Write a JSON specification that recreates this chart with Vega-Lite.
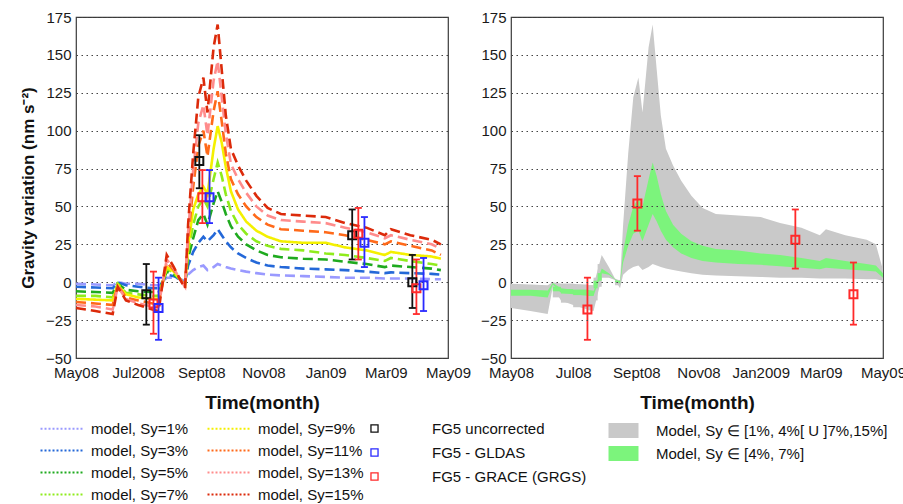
{
  "$schema": "https://vega.github.io/schema/vega-lite/v6.json",
  "background": "white",
  "padding": {"left": 18, "top": 9, "right": 2, "bottom": 5},
  "bounds": "flush",
  "spacing": 63,
  "datasets": {
    "model": [
      {"t": 0, "s1": -1, "s3": -3, "s5": -6, "s7": -9, "s9": -11, "s11": -13, "s13": -15, "s15": -17},
      {"t": 19, "s1": -1.5, "s3": -3.5, "s5": -6.5, "s7": -9, "s9": -11.5, "s11": -14, "s13": -16, "s15": -19},
      {"t": 36, "s1": -2, "s3": -4, "s5": -7, "s7": -10, "s9": -12, "s11": -15, "s13": -18, "s15": -21},
      {"t": 41, "s1": 0, "s3": 0, "s5": -1, "s7": -1, "s9": -2, "s11": -2, "s13": -3, "s15": -3},
      {"t": 49, "s1": -1, "s3": -2, "s5": -5, "s7": -7, "s9": -8, "s11": -10, "s13": -11, "s15": -12},
      {"t": 61, "s1": -1, "s3": -3, "s5": -6, "s7": -8, "s9": -10, "s11": -12, "s13": -14, "s15": -15},
      {"t": 75, "s1": -2, "s3": -4, "s5": -6.5, "s7": -9, "s9": -11, "s11": -14, "s13": -16, "s15": -18},
      {"t": 81, "s1": -2, "s3": -4, "s5": -7, "s7": -9, "s9": -11, "s11": -14, "s13": -16, "s15": -19},
      {"t": 89, "s1": 3, "s3": 5, "s5": 7, "s7": 9, "s9": 10, "s11": 13, "s13": 15, "s15": 18},
      {"t": 96, "s1": 3, "s3": 4, "s5": 5, "s7": 6, "s9": 7, "s11": 8, "s13": 9, "s15": 10},
      {"t": 102, "s1": 2, "s3": 2, "s5": 2, "s7": 2, "s9": 2, "s11": 2, "s13": 2, "s15": 2},
      {"t": 107, "s1": 1, "s3": 0, "s5": -1, "s7": -1, "s9": -2, "s11": -2, "s13": -3, "s15": -4},
      {"t": 110, "s1": 5, "s3": 11, "s5": 16, "s7": 20, "s9": 24, "s11": 28, "s13": 33, "s15": 38},
      {"t": 115, "s1": 8, "s3": 20, "s5": 29, "s7": 38, "s9": 48, "s11": 63, "s13": 74, "s15": 85},
      {"t": 120, "s1": 10, "s3": 26, "s5": 41, "s7": 50, "s9": 58, "s11": 90, "s13": 105, "s15": 122},
      {"t": 125, "s1": 11, "s3": 30, "s5": 45, "s7": 55, "s9": 63, "s11": 100, "s13": 117, "s15": 135},
      {"t": 129, "s1": 8, "s3": 27, "s5": 38, "s7": 50, "s9": 58, "s11": 83, "s13": 97, "s15": 112},
      {"t": 135, "s1": 10, "s3": 31, "s5": 52, "s7": 68, "s9": 88, "s11": 113, "s13": 133, "s15": 155},
      {"t": 139, "s1": 12, "s3": 35, "s5": 60, "s7": 79, "s9": 103, "s11": 126, "s13": 146, "s15": 170},
      {"t": 143, "s1": 11, "s3": 31, "s5": 53, "s7": 70, "s9": 92, "s11": 106, "s13": 122, "s15": 140},
      {"t": 147, "s1": 10, "s3": 27, "s5": 45, "s7": 58, "s9": 76, "s11": 85, "s13": 98, "s15": 110},
      {"t": 152, "s1": 9, "s3": 23, "s5": 37, "s7": 47, "s9": 60, "s11": 68, "s13": 78, "s15": 88},
      {"t": 159, "s1": 8, "s3": 19, "s5": 30, "s7": 38, "s9": 48, "s11": 58, "s13": 68, "s15": 77},
      {"t": 167, "s1": 7, "s3": 16, "s5": 25, "s7": 32, "s9": 40, "s11": 50, "s13": 59, "s15": 67},
      {"t": 177, "s1": 6, "s3": 13, "s5": 21, "s7": 27, "s9": 34, "s11": 43, "s13": 50, "s15": 57},
      {"t": 188, "s1": 5, "s3": 11, "s5": 18, "s7": 24, "s9": 30, "s11": 38, "s13": 44, "s15": 49},
      {"t": 201, "s1": 4.5, "s3": 10, "s5": 16.5, "s7": 22, "s9": 27, "s11": 35, "s13": 41, "s15": 45},
      {"t": 223, "s1": 4, "s3": 9, "s5": 15.5, "s7": 21, "s9": 26, "s11": 34, "s13": 40, "s15": 44},
      {"t": 245, "s1": 3.5, "s3": 8.5, "s5": 15, "s7": 19, "s9": 26, "s11": 33, "s13": 39, "s15": 43},
      {"t": 264, "s1": 3, "s3": 8, "s5": 13.5, "s7": 18, "s9": 23, "s11": 31, "s13": 36, "s15": 39},
      {"t": 285, "s1": 3, "s3": 7, "s5": 12, "s7": 16, "s9": 21, "s11": 28, "s13": 33, "s15": 36},
      {"t": 303, "s1": 2.5, "s3": 6, "s5": 10, "s7": 14, "s9": 18, "s11": 25, "s13": 29, "s15": 31},
      {"t": 309, "s1": 2.5, "s3": 6.5, "s5": 11, "s7": 16, "s9": 20, "s11": 27, "s13": 31, "s15": 35},
      {"t": 328, "s1": 2.5, "s3": 6, "s5": 10, "s7": 14, "s9": 18, "s11": 24, "s13": 28, "s15": 31},
      {"t": 349, "s1": 2, "s3": 5.5, "s5": 9, "s7": 12, "s9": 17, "s11": 21, "s13": 25, "s15": 28},
      {"t": 358, "s1": 2, "s3": 5, "s5": 8, "s7": 11, "s9": 15.5, "s11": 18, "s13": 22, "s15": 25}
    ],
    "band": [
      {"t": 0, "all_lo": -17, "all_hi": -1, "mid_lo": -9, "mid_hi": -5},
      {"t": 19, "all_lo": -19, "all_hi": -1.5, "mid_lo": -9, "mid_hi": -5},
      {"t": 36, "all_lo": -21, "all_hi": -2, "mid_lo": -10, "mid_hi": -5.5},
      {"t": 41, "all_lo": -3, "all_hi": 0, "mid_lo": -1.5, "mid_hi": -0.5},
      {"t": 49, "all_lo": -12, "all_hi": -1, "mid_lo": -7, "mid_hi": -4},
      {"t": 61, "all_lo": -15, "all_hi": -1, "mid_lo": -8, "mid_hi": -5},
      {"t": 75, "all_lo": -18, "all_hi": -2, "mid_lo": -9, "mid_hi": -5},
      {"t": 81, "all_lo": -19, "all_hi": -2, "mid_lo": -9, "mid_hi": -6},
      {"t": 89, "all_lo": 3, "all_hi": 18, "mid_lo": 6, "mid_hi": 9},
      {"t": 96, "all_lo": 3, "all_hi": 10, "mid_lo": 5, "mid_hi": 6},
      {"t": 102, "all_lo": 1.5, "all_hi": 2.5, "mid_lo": 1.8, "mid_hi": 2.2},
      {"t": 107, "all_lo": -4, "all_hi": 1, "mid_lo": -1, "mid_hi": 0},
      {"t": 110, "all_lo": 5, "all_hi": 38, "mid_lo": 13, "mid_hi": 20},
      {"t": 115, "all_lo": 8, "all_hi": 85, "mid_lo": 24, "mid_hi": 38},
      {"t": 120, "all_lo": 10, "all_hi": 122, "mid_lo": 32, "mid_hi": 50},
      {"t": 125, "all_lo": 11, "all_hi": 135, "mid_lo": 34, "mid_hi": 55},
      {"t": 129, "all_lo": 8, "all_hi": 112, "mid_lo": 27, "mid_hi": 50},
      {"t": 135, "all_lo": 10, "all_hi": 155, "mid_lo": 38, "mid_hi": 68},
      {"t": 139, "all_lo": 12, "all_hi": 170, "mid_lo": 45, "mid_hi": 79},
      {"t": 143, "all_lo": 11, "all_hi": 140, "mid_lo": 40, "mid_hi": 70},
      {"t": 147, "all_lo": 10, "all_hi": 110, "mid_lo": 34, "mid_hi": 58},
      {"t": 152, "all_lo": 9, "all_hi": 88, "mid_lo": 28, "mid_hi": 47},
      {"t": 159, "all_lo": 8, "all_hi": 77, "mid_lo": 23, "mid_hi": 38},
      {"t": 167, "all_lo": 7, "all_hi": 67, "mid_lo": 19, "mid_hi": 32},
      {"t": 177, "all_lo": 6, "all_hi": 57, "mid_lo": 16, "mid_hi": 27},
      {"t": 188, "all_lo": 5, "all_hi": 49, "mid_lo": 14, "mid_hi": 24},
      {"t": 201, "all_lo": 4.5, "all_hi": 45, "mid_lo": 13, "mid_hi": 22},
      {"t": 223, "all_lo": 4, "all_hi": 44, "mid_lo": 12, "mid_hi": 21},
      {"t": 245, "all_lo": 3.5, "all_hi": 43, "mid_lo": 11.5, "mid_hi": 19},
      {"t": 264, "all_lo": 3, "all_hi": 39, "mid_lo": 10.5, "mid_hi": 18},
      {"t": 285, "all_lo": 3, "all_hi": 36, "mid_lo": 9.5, "mid_hi": 16},
      {"t": 303, "all_lo": 2.5, "all_hi": 31, "mid_lo": 8.5, "mid_hi": 14},
      {"t": 309, "all_lo": 2.5, "all_hi": 35, "mid_lo": 9.5, "mid_hi": 16},
      {"t": 328, "all_lo": 2.5, "all_hi": 31, "mid_lo": 8.5, "mid_hi": 14},
      {"t": 349, "all_lo": 2, "all_hi": 28, "mid_lo": 7.5, "mid_hi": 12},
      {"t": 358, "all_lo": 2, "all_hi": 25, "mid_lo": 7, "mid_hi": 11},
      {"t": 365, "all_lo": 1, "all_hi": 8, "mid_lo": 3, "mid_hi": 6}
    ],
    "bandsteps": [
      {"t": 41, "t2": 49, "all_lo": -10, "all_hi": -1, "mid_lo": -6, "mid_hi": -3},
      {"t": 49, "t2": 61, "all_lo": -13.5, "all_hi": -1, "mid_lo": -7.5, "mid_hi": -4.5},
      {"t": 61, "t2": 75, "all_lo": -16.5, "all_hi": -1.5, "mid_lo": -8.5, "mid_hi": -5},
      {"t": 75, "t2": 81, "all_lo": -18.5, "all_hi": -2, "mid_lo": -9, "mid_hi": -5.5},
      {"t": 81, "t2": 85, "all_lo": -12, "all_hi": 3, "mid_lo": -4, "mid_hi": 1},
      {"t": 85, "t2": 89, "all_lo": -3, "all_hi": 12, "mid_lo": 1, "mid_hi": 6},
      {"t": 102, "t2": 107, "all_lo": -2, "all_hi": 1.5, "mid_lo": 0, "mid_hi": 1}
    ],
    "fg5": [
      {"t": 69, "src": "FG5 uncorrected", "v": -8, "lo": -28, "hi": 12},
      {"t": 121, "src": "FG5 uncorrected", "v": 80, "lo": 62, "hi": 97},
      {"t": 271, "src": "FG5 uncorrected", "v": 31, "lo": 15, "hi": 48},
      {"t": 330, "src": "FG5 uncorrected", "v": 0, "lo": -17, "hi": 18},
      {"t": 76, "src": "FG5 - GRACE (GRGS)", "v": -14, "lo": -34, "hi": 7},
      {"t": 124, "src": "FG5 - GRACE (GRGS)", "v": 56, "lo": 39, "hi": 74},
      {"t": 277, "src": "FG5 - GRACE (GRGS)", "v": 32, "lo": 15, "hi": 49},
      {"t": 334, "src": "FG5 - GRACE (GRGS)", "v": -4, "lo": -21, "hi": 15},
      {"t": 81, "src": "FG5 - GLDAS", "v": -17, "lo": -38, "hi": 3},
      {"t": 131, "src": "FG5 - GLDAS", "v": 56, "lo": 39, "hi": 74},
      {"t": 283, "src": "FG5 - GLDAS", "v": 26, "lo": 10, "hi": 43},
      {"t": 341, "src": "FG5 - GLDAS", "v": -2, "lo": -19, "hi": 16}
    ],
    "grace": [
      {"t": 75, "v": -18, "lo": -38, "hi": 3},
      {"t": 124, "v": 52, "lo": 34, "hi": 70},
      {"t": 279, "v": 28, "lo": 9, "hi": 48},
      {"t": 336, "v": -8, "lo": -28, "hi": 13}
    ],
    "bandkeys": [
      {"band": "Model, Sy ∈ [1%, 4%[ U ]7%,15%]"},
      {"band": "Model, Sy ∈ [4%, 7%]"}
    ]
  },
  "hconcat": [
    {
      "width": 372,
      "height": 341,
      "encoding": {
        "x": {
          "field": "t", "type": "quantitative",
          "scale": {"domain": [0, 365], "nice": false, "zero": false},
          "axis": {
            "title": "Time(month)",
            "values": [0, 61, 123, 184, 245, 304, 365],
            "labelExpr": "datum.value == 0 ? 'May08' : datum.value == 61 ? 'Jul2008' : datum.value == 123 ? 'Sept08' : datum.value == 184 ? 'Nov08' : datum.value == 245 ? 'Jan09' : datum.value == 304 ? 'Mar09' : 'May09'"
          }
        },
        "y": {
          "type": "quantitative",
          "scale": {"domain": [-50, 175], "nice": false},
          "axis": {
            "title": "Gravity variation (nm s⁻²)",
            "values": [-50, -25, 0, 25, 50, 75, 100, 125, 150, 175],
            "grid": true
          }
        }
      },
      "layer": [
        {
          "data": {"name": "model"},
          "transform": [
            {"fold": ["s1", "s3", "s5", "s7", "s9", "s11", "s13", "s15"], "as": ["key", "value"]}
          ],
          "mark": {"type": "line", "strokeWidth": 2.6},
          "encoding": {
            "y": {"field": "value"},
            "color": {
              "field": "key", "type": "nominal",
              "scale": {
                "domain": ["s1", "s3", "s5", "s7", "s9", "s11", "s13", "s15"],
                "range": ["#9a9aff", "#2468d8", "#1faa1f", "#8fec1c", "#f4f000", "#ff6a1a", "#ff8c8c", "#dc2a0a"]
              },
              "legend": {
                "orient": "none", "legendX": -22, "legendY": 403,
                "title": null, "columns": 2, "columnPadding": 14, "rowPadding": 5,
                "symbolType": "M-3,0H3", "symbolSize": 215, "symbolStrokeWidth": 2, "symbolDash": [2, 2],
                "labelOffset": 20,
                "labelExpr": "'model, Sy=' + slice(datum.label, 1) + '%'"
              }
            },
            "strokeDash": {"condition": {"test": "datum.key === 's9'", "value": [1, 0]}, "value": [10, 5]}
          }
        },
        {
          "data": {"name": "fg5"},
          "mark": {"type": "rule", "strokeWidth": 1.8},
          "encoding": {
            "y": {"field": "lo"},
            "y2": {"field": "hi"},
            "stroke": {
              "field": "src", "type": "nominal",
              "scale": {"domain": ["FG5 uncorrected", "FG5 - GLDAS", "FG5 - GRACE (GRGS)"], "range": ["#111111", "#2a2aff", "#ff2a2a"]},
              "legend": {
                "orient": "none", "legendX": 291, "legendY": 404,
                "title": null, "rowPadding": 8, "labelOffset": 50,
                "symbolType": "square", "symbolSize": 50, "symbolStrokeWidth": 1.3, "symbolFillColor": "white"
              }
            }
          }
        },
        {
          "data": {"name": "fg5"},
          "mark": {"type": "point", "shape": "M-1,0H1", "size": 49, "strokeWidth": 1.8, "filled": false, "opacity": 1},
          "encoding": {"y": {"field": "lo"}, "stroke": {"field": "src", "type": "nominal"}}
        },
        {
          "data": {"name": "fg5"},
          "mark": {"type": "point", "shape": "M-1,0H1", "size": 49, "strokeWidth": 1.8, "filled": false, "opacity": 1},
          "encoding": {"y": {"field": "hi"}, "stroke": {"field": "src", "type": "nominal"}}
        },
        {
          "data": {"name": "fg5"},
          "mark": {"type": "point", "shape": "square", "size": 64, "strokeWidth": 2, "filled": false, "opacity": 1},
          "encoding": {"y": {"field": "v"}, "stroke": {"field": "src", "type": "nominal"}}
        }
      ]
    },
    {
      "width": 372,
      "height": 341,
      "encoding": {
        "x": {
          "field": "t", "type": "quantitative",
          "scale": {"domain": [0, 365], "nice": false, "zero": false},
          "axis": {
            "title": "Time(month)",
            "values": [0, 61, 123, 184, 245, 304, 365],
            "labelExpr": "datum.value == 0 ? 'May08' : datum.value == 61 ? 'Jul08' : datum.value == 123 ? 'Sept08' : datum.value == 184 ? 'Nov08' : datum.value == 245 ? 'Jan2009' : datum.value == 304 ? 'Mar09' : 'May09'"
          }
        },
        "y": {
          "type": "quantitative",
          "scale": {"domain": [-50, 175], "nice": false},
          "axis": {
            "title": null,
            "values": [-50, -25, 0, 25, 50, 75, 100, 125, 150, 175],
            "grid": true,
            "zindex": 1
          }
        }
      },
      "layer": [
        {
          "data": {"name": "band"},
          "mark": {"type": "area", "opacity": 1, "orient": "vertical", "color": "#c9c9c9"},
          "encoding": {
            "y": {"field": "all_lo", "stack": null},
            "y2": {"field": "all_hi"},
            "order": {"value": null}
          }
        },
        {
          "data": {"name": "bandsteps"},
          "mark": {"type": "rect", "color": "#c9c9c9"},
          "encoding": {
            "x2": {"field": "t2"},
            "y": {"field": "all_lo"},
            "y2": {"field": "all_hi"}
          }
        },
        {
          "data": {"name": "band"},
          "mark": {"type": "area", "opacity": 1, "orient": "vertical", "color": "#7cf47c"},
          "encoding": {
            "y": {"field": "mid_lo", "stack": null},
            "y2": {"field": "mid_hi"},
            "order": {"value": null}
          }
        },
        {
          "data": {"name": "bandsteps"},
          "mark": {"type": "rect", "color": "#7cf47c"},
          "encoding": {
            "x2": {"field": "t2"},
            "y": {"field": "mid_lo"},
            "y2": {"field": "mid_hi"}
          }
        },
        {
          "data": {"name": "bandkeys"},
          "mark": {"type": "point", "opacity": 0, "size": 0},
          "encoding": {
            "x": {"value": 0},
            "y": {"value": 0},
            "fill": {
              "field": "band", "type": "nominal",
              "scale": {"domain": ["Model, Sy ∈ [1%, 4%[ U ]7%,15%]", "Model, Sy ∈ [4%, 7%]"], "range": ["#c9c9c9", "#7cf47c"]},
              "legend": {
                "orient": "none", "legendX": 540, "legendY": 406,
                "title": null, "rowPadding": 7, "labelOffset": 25,
                "symbolType": "M-2,-1H2V1H-2Z", "symbolSize": 225, "symbolStrokeWidth": 0, "symbolOpacity": 1
              }
            }
          }
        },
        {
          "data": {"name": "grace"},
          "mark": {"type": "rule", "strokeWidth": 1.8, "color": "#ff2a2a"},
          "encoding": {"y": {"field": "lo"}, "y2": {"field": "hi"}}
        },
        {
          "data": {"name": "grace"},
          "mark": {"type": "point", "shape": "M-1,0H1", "size": 49, "strokeWidth": 1.8, "filled": false, "opacity": 1, "color": "#ff2a2a"},
          "encoding": {"y": {"field": "lo"}}
        },
        {
          "data": {"name": "grace"},
          "mark": {"type": "point", "shape": "M-1,0H1", "size": 49, "strokeWidth": 1.8, "filled": false, "opacity": 1, "color": "#ff2a2a"},
          "encoding": {"y": {"field": "hi"}}
        },
        {
          "data": {"name": "grace"},
          "mark": {"type": "point", "shape": "square", "size": 64, "strokeWidth": 2, "filled": false, "opacity": 1, "color": "#ff2a2a"},
          "encoding": {"y": {"field": "v"}}
        }
      ]
    }
  ],
  "config": {
    "font": "Liberation Sans",
    "view": {"stroke": "#3a3a3a", "strokeWidth": 1.2},
    "axis": {
      "labelFont": "Liberation Sans",
      "labelFontSize": 15,
      "labelColor": "#1a1a1a",
      "titleFont": "Liberation Sans",
      "titleFontWeight": "bold",
      "titleColor": "#111111",
      "domain": false,
      "ticks": false,
      "grid": false,
      "gridColor": "#444444",
      "gridDash": [1.5, 3.5],
      "gridWidth": 1,
      "labelOverlap": false,
      "labelFlush": false,
      "labelBound": false
    },
    "axisX": {"labelPadding": 7, "titlePadding": 13, "titleFontSize": 19},
    "axisY": {"labelPadding": 5, "titlePadding": 8, "titleFontSize": 17},
    "legend": {
      "labelFont": "Liberation Sans",
      "labelFontSize": 15,
      "labelColor": "#111111",
      "labelLimit": 400
    }
  }
}
